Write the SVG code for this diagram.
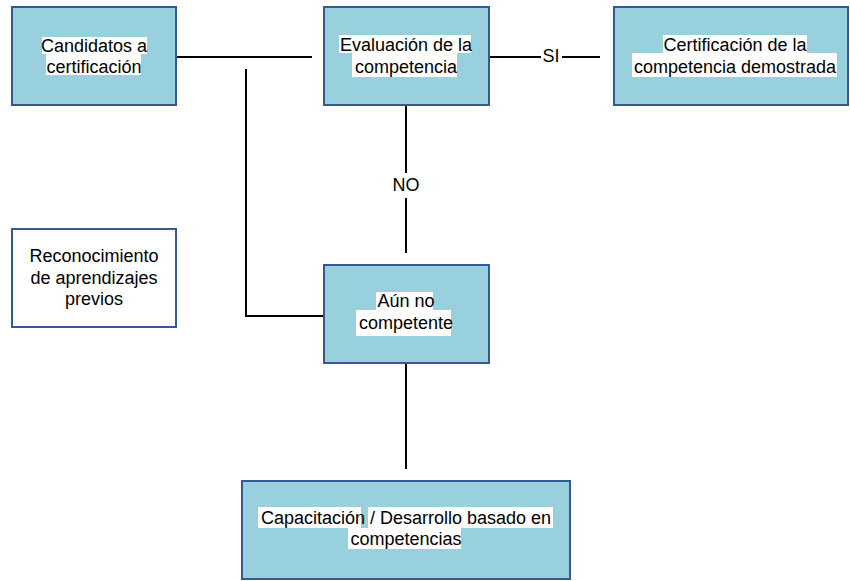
<svg xmlns="http://www.w3.org/2000/svg" width="850" height="581" viewBox="0 0 850 581">
<style>
.box{fill:#99D0DD;stroke:#355A92;stroke-width:2}
.wbox{fill:#ffffff;stroke:#355A92;stroke-width:2}
.hl{fill:#ffffff}
text{font-family:"Liberation Sans",Arial,sans-serif;font-size:18px;fill:#000;text-anchor:middle}
.ln{stroke:#000;stroke-width:2;fill:none}
</style>
<rect width="850" height="581" fill="#ffffff"/>
<g id="connectors">
<line class="ln" x1="176" y1="57" x2="312" y2="57"/>
<polyline class="ln" points="246,69 246,316 324,316"/>
<line class="ln" x1="489" y1="57" x2="541" y2="57"/>
<line class="ln" x1="562" y1="57" x2="600" y2="57"/>
<text x="551" y="62">SI</text>
<line class="ln" x1="406" y1="105" x2="406" y2="173"/>
<line class="ln" x1="406" y1="198" x2="406" y2="253"/>
<text x="406" y="191">NO</text>
<line class="ln" x1="406" y1="363" x2="406" y2="469"/>
</g>
<g id="candidatos">
<rect class="box" x="12" y="7" width="164" height="98"/>
<rect class="hl" x="42" y="37" width="105" height="17"/>
<rect class="hl" x="46" y="54" width="95" height="21"/>
<text x="94" y="52">Candidatos a</text>
<text x="94" y="73">certificación</text>
</g>
<g id="evaluacion">
<rect class="box" x="324" y="7" width="165" height="98"/>
<rect class="hl" x="339" y="35" width="132" height="18"/>
<rect class="hl" x="352" y="53" width="105" height="24"/>
<text x="406" y="51">Evaluación de la</text>
<text x="406" y="73">competencia</text>
</g>
<g id="certificacion">
<rect class="box" x="614" y="7" width="234" height="98"/>
<rect class="hl" x="663" y="35" width="144" height="18"/>
<rect class="hl" x="632" y="53" width="205" height="24"/>
<text x="735" y="51">Certificación de la</text>
<text x="735" y="73">competencia demostrada</text>
</g>
<g id="reconocimiento">
<rect class="wbox" x="12" y="229" width="164" height="98"/>
<text x="94" y="262">Reconocimiento</text>
<text x="94" y="284">de aprendizajes</text>
<text x="94" y="305">previos</text>
</g>
<g id="aun-no">
<rect class="box" x="324" y="265" width="165" height="98"/>
<rect class="hl" x="376" y="292" width="57" height="18"/>
<rect class="hl" x="356" y="310" width="95" height="26"/>
<text x="406" y="307">Aún no</text>
<text x="406" y="329">competente</text>
</g>
<g id="capacitacion">
<rect class="box" x="242" y="481" width="328" height="98"/>
<rect class="hl" x="258" y="507" width="103" height="21"/>
<rect class="hl" x="368" y="507" width="185" height="21"/>
<rect class="hl" x="348" y="528" width="113" height="21"/>
<text x="406" y="524">Capacitación / Desarrollo basado en</text>
<text x="406" y="545">competencias</text>
</g>
</svg>
